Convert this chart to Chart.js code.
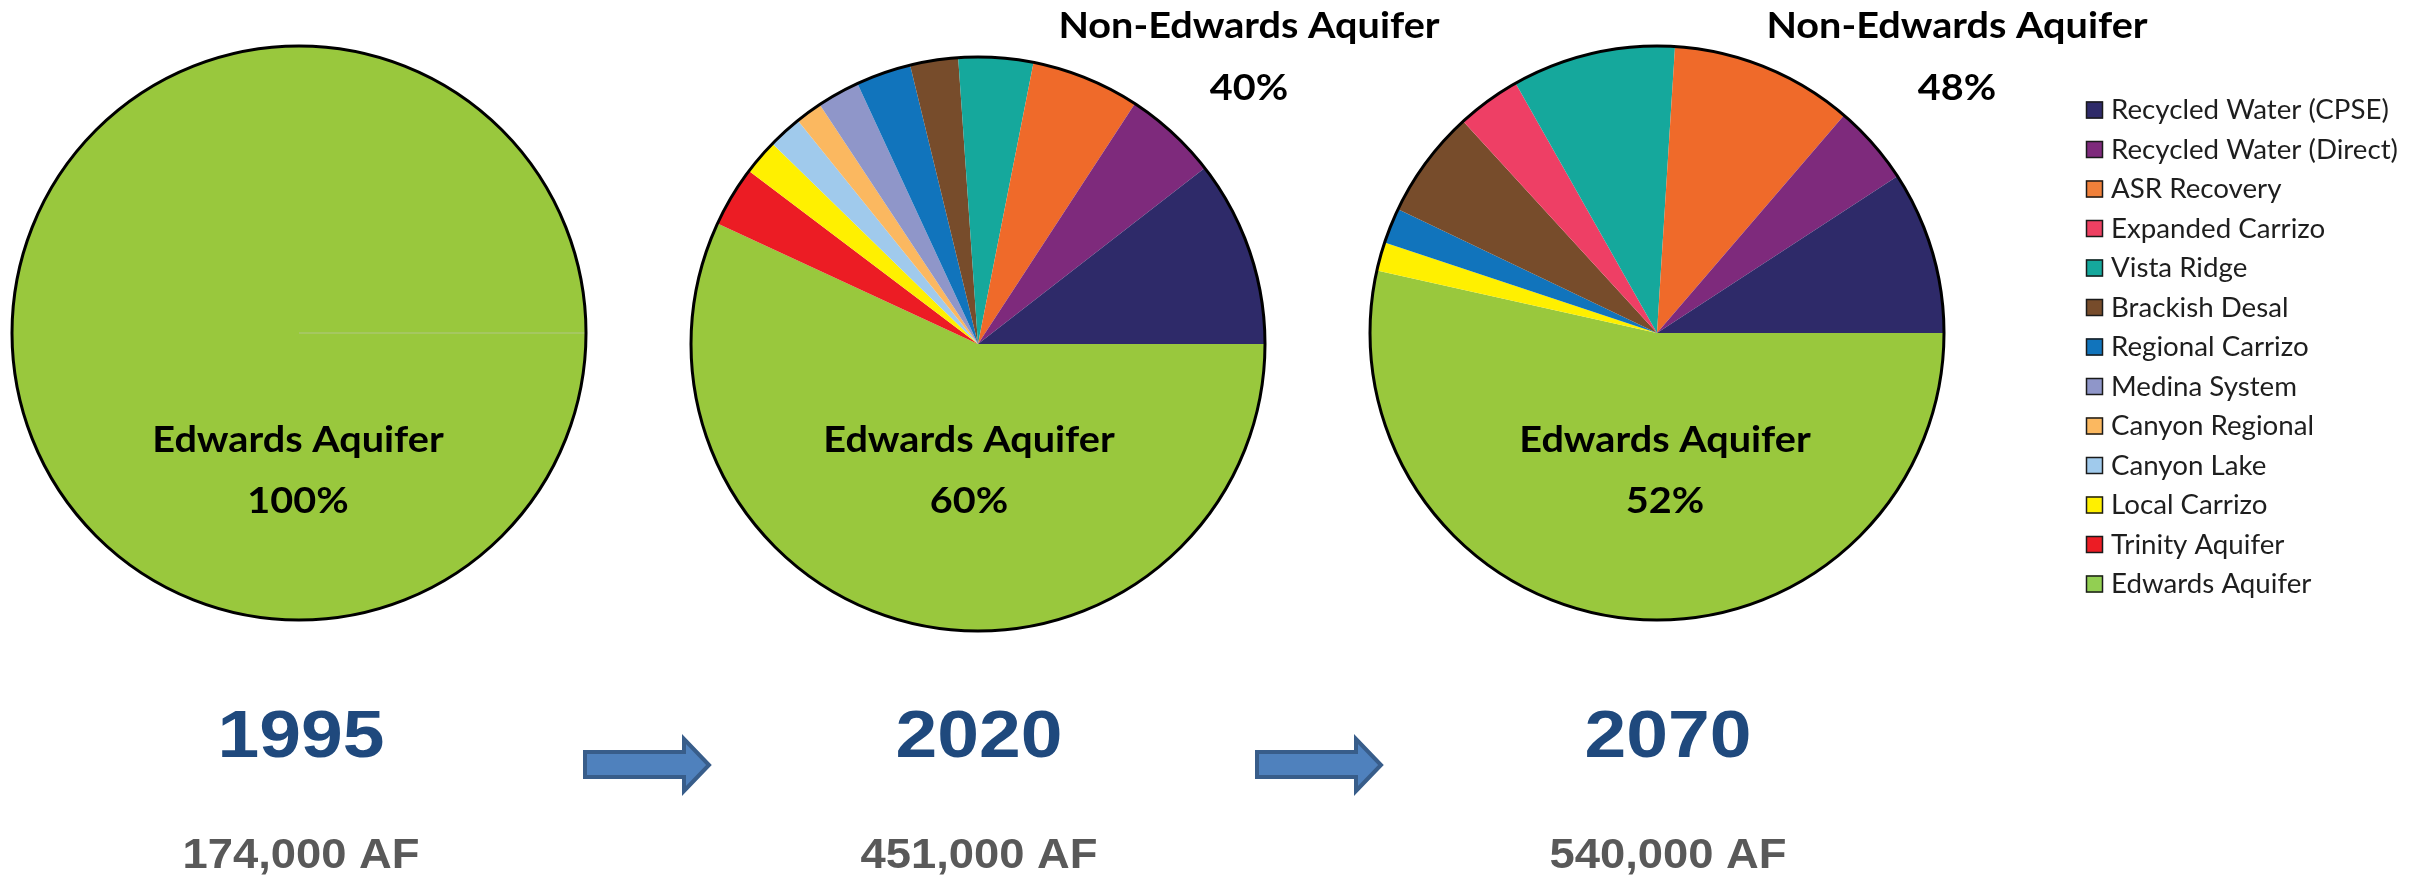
<!DOCTYPE html>
<html>
<head>
<meta charset="utf-8">
<script src="https://cdn.jsdelivr.net/npm/chart.js@4.4.1/dist/chart.umd.min.js"></script>
<style>
html, body { margin: 0; padding: 0; background: #ffffff; }
#wrap { position: relative; width: 2423px; height: 877px; overflow: hidden; background: #ffffff; }
#wrap canvas { position: absolute; left: 0; top: 0; }
</style>
</head>
<body>
<div id="wrap">
  <canvas id="c0" width="2423" height="877"></canvas>
  <canvas id="c1" width="2423" height="877"></canvas>
  <canvas id="c2" width="2423" height="877"></canvas>
</div>
<script>
// ---------- DATA ----------
// Legend order
const legendLabels = [
  'Recycled Water (CPSE)', 'Recycled Water (Direct)', 'ASR Recovery', 'Expanded Carrizo',
  'Vista Ridge', 'Brackish Desal', 'Regional Carrizo', 'Medina System',
  'Canyon Regional', 'Canyon Lake', 'Local Carrizo', 'Trinity Aquifer', 'Edwards Aquifer'
];
// Slice order (clockwise, starting at 3 o'clock)
const sliceLabels = [
  'Edwards Aquifer', 'Trinity Aquifer', 'Local Carrizo', 'Canyon Lake', 'Canyon Regional',
  'Medina System', 'Regional Carrizo', 'Brackish Desal', 'Expanded Carrizo', 'Vista Ridge',
  'ASR Recovery', 'Recycled Water (Direct)', 'Recycled Water (CPSE)'
];
// Share of supply (%) per source, in slice order
const share1995 = [100, 0, 0, 0, 0, 0, 0, 0, 0, 0, 0, 0, 0];
const share2020 = [56.9, 3.4, 2.0, 1.9, 1.5, 2.4, 3.1, 2.7, 0, 4.2, 6.1, 5.3, 10.5];
const share2070 = [53.5, 0, 1.6, 0, 0, 0, 2.0, 6.1, 3.6, 9.2, 10.3, 4.5, 9.2];

const years = ['1995', '2020', '2070'];
const totalsAF = ['174,000 AF', '451,000 AF', '540,000 AF'];
const edwardsPct = ['100%', '60%', '52%'];
const nonEdwardsPct = ['', '40%', '48%'];
const edwardsTitle = 'Edwards Aquifer';
const nonEdwardsTitle = 'Non-Edwards Aquifer';

// ---------- STYLE / LAYOUT ----------
const sliceColor = {
  'Recycled Water (CPSE)': '#2E2A69',
  'Recycled Water (Direct)': '#7E2A7C',
  'ASR Recovery': '#EF6A2A',
  'Expanded Carrizo': '#EE3F65',
  'Vista Ridge': '#15A89C',
  'Brackish Desal': '#774C2B',
  'Regional Carrizo': '#1174BC',
  'Medina System': '#8F96C9',
  'Canyon Regional': '#FBB860',
  'Canyon Lake': '#A0CAEC',
  'Local Carrizo': '#FFF000',
  'Trinity Aquifer': '#EC1C24',
  'Edwards Aquifer': '#99C83D'
};
const legendSwatch = Object.assign({}, sliceColor, {
  'ASR Recovery': '#F0803A',
  'Expanded Carrizo': '#EE4062',
  'Edwards Aquifer': '#92CF52'
});

const W = 2423, H = 877, R = 287;
const pieCenters = [[299, 333], [978, 344], [1657, 333]];
const edwardsLabelX = [298, 969, 1665];
const nonEdwardsLabelX = [0, 1249, 1957];
const yearX = [301, 979, 1668];
const arrowX = [583, 1255];

function drawText(ctx, text, x, y, font, color, sx) {
  ctx.save();
  ctx.font = font;
  ctx.fillStyle = color;
  ctx.textAlign = 'center';
  ctx.textBaseline = 'alphabetic';
  ctx.translate(x, y);
  ctx.scale(sx || 1, 1);
  ctx.fillText(text, 0, 0);
  ctx.restore();
}

function drawArrow(ctx, x0) {
  ctx.save();
  ctx.beginPath();
  ctx.moveTo(x0 + 2, 752);
  ctx.lineTo(x0 + 101, 752);
  ctx.lineTo(x0 + 101, 739);
  ctx.lineTo(x0 + 126, 765);
  ctx.lineTo(x0 + 101, 791);
  ctx.lineTo(x0 + 101, 777);
  ctx.lineTo(x0 + 2, 777);
  ctx.closePath();
  ctx.fillStyle = '#4F81BD';
  ctx.fill();
  ctx.lineWidth = 4;
  ctx.lineJoin = 'miter';
  ctx.strokeStyle = '#385D8A';
  ctx.stroke();
  ctx.restore();
}

const decorPlugin = {
  id: 'decor',
  afterDatasetsDraw(chart, args, opts) {
    const ctx = chart.ctx;
    const arc = chart.getDatasetMeta(0).data[0];
    const i = opts.index;
    ctx.save();
    // outer outline
    ctx.beginPath();
    ctx.arc(arc.x, arc.y, arc.outerRadius, 0, Math.PI * 2);
    ctx.lineWidth = 3;
    ctx.strokeStyle = '#000000';
    ctx.stroke();
    ctx.restore();

    const lbl = 'bold 37px Lato';
    const lsx = 1.07;
    drawText(ctx, edwardsTitle, edwardsLabelX[i], 452, lbl, '#000000', lsx);
    drawText(ctx, edwardsPct[i], edwardsLabelX[i], 513, lbl, '#000000', lsx);
    if (nonEdwardsPct[i]) {
      drawText(ctx, nonEdwardsTitle, nonEdwardsLabelX[i], 38, lbl, '#000000', lsx);
      drawText(ctx, nonEdwardsPct[i], nonEdwardsLabelX[i], 100, lbl, '#000000', lsx);
    }
    drawText(ctx, years[i], yearX[i], 757, 'bold 67px "Liberation Sans"', '#1F497D', 1.12);
    drawText(ctx, totalsAF[i], yearX[i], 868, 'bold 42px "Liberation Sans"', '#595959', 1.08);
    if (i < arrowX.length) drawArrow(ctx, arrowX[i]);

    if (opts.legend) {
      ctx.save();
      for (let k = 0; k < legendLabels.length; k++) {
        const cy = 110 + 39.5 * k;
        ctx.fillStyle = legendSwatch[legendLabels[k]];
        ctx.fillRect(2086, cy - 8.5, 17, 17);
        ctx.lineWidth = 1.5;
        ctx.strokeStyle = '#1a1a1a';
        ctx.strokeRect(2086.5, cy - 8, 16, 16);
        ctx.save();
        ctx.font = '26px Lato';
        ctx.fillStyle = '#1e1e1e';
        ctx.textAlign = 'left';
        ctx.textBaseline = 'alphabetic';
        ctx.translate(2111, cy + 9);
        ctx.scale(1.065, 1);
        ctx.fillText(legendLabels[k], 0, 0);
        ctx.restore();
      }
      ctx.restore();
    }
  }
};

const allShares = [share1995, share2020, share2070];
allShares.forEach((shares, i) => {
  const [cx, cy] = pieCenters[i];
  new Chart(document.getElementById('c' + i), {
    type: 'pie',
    data: {
      labels: sliceLabels,
      datasets: [{
        data: shares,
        backgroundColor: sliceLabels.map(n => sliceColor[n]),
        borderWidth: i === 0 ? 1 : 0,
        borderColor: '#A9C76E'
      }]
    },
    options: {
      responsive: false,
      animation: false,
      events: [],
      rotation: 90,
      radius: R,
      layout: { padding: { left: cx - R, right: W - cx - R, top: cy - R, bottom: H - cy - R } },
      plugins: {
        legend: { display: false },
        tooltip: { enabled: false },
        decor: { index: i, legend: i === 2 }
      }
    },
    plugins: [decorPlugin]
  });
});
</script>
</body>
</html>
